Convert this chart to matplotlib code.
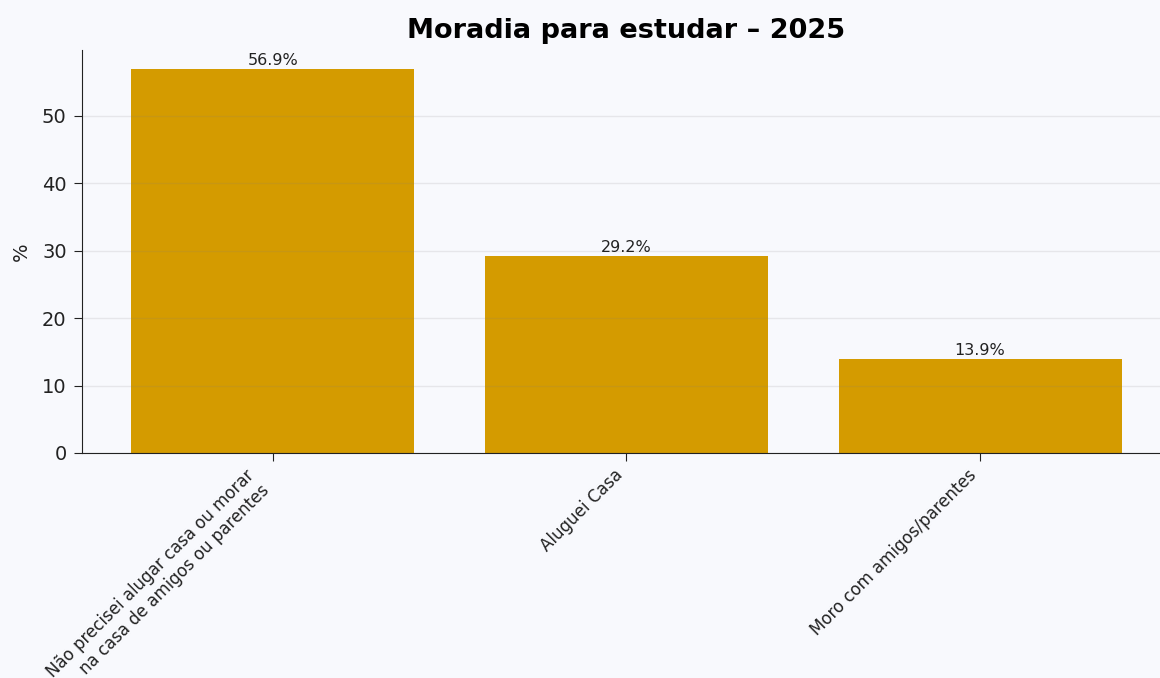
import matplotlib.pyplot as plt

categorias = ["Não precisei alugar casa ou morar\nna casa de amigos ou parentes",
              "Aluguei Casa",
              "Moro com amigos/parentes"]
percentuais = [56.9, 29.2, 13.9]

fundo = "#F8F9FD"
cor_barra = "#D49B00"

fig = plt.figure(figsize=(11.6, 6.78), dpi=100, facecolor=fundo)
ax = fig.add_axes([82 / 1160, 1 - 453 / 678, 1089 / 1160, 403 / 678])
ax.set_facecolor(fundo)

barras = ax.bar(categorias, percentuais, color=cor_barra, width=0.8)
ax.bar_label(barras, labels=[f"{v:.1f}%" for v in percentuais], fontsize=11.5, color="#222222", padding=1)

ax.set_ylim(0, max(percentuais) * 1.05)
ax.grid(axis="y", color="#808080", linewidth=1, alpha=0.15)
ax.spines["top"].set_visible(False)
ax.spines["right"].set_visible(False)
ax.spines["left"].set_color("#222222")
ax.spines["bottom"].set_color("#222222")

ax.set_title("Moradia para estudar – 2025", fontsize=19.5, fontweight="bold", pad=9)
ax.set_ylabel("%", fontsize=14, labelpad=8, color="#222222")
ax.tick_params(axis="y", labelsize=14, length=6, pad=5, colors="#222222")
ax.tick_params(axis="x", labelsize=12, length=6, colors="#222222")
plt.setp(ax.get_xticklabels(), rotation=45, ha="right")

fig.savefig("out.png", dpi=100, facecolor=fundo)
